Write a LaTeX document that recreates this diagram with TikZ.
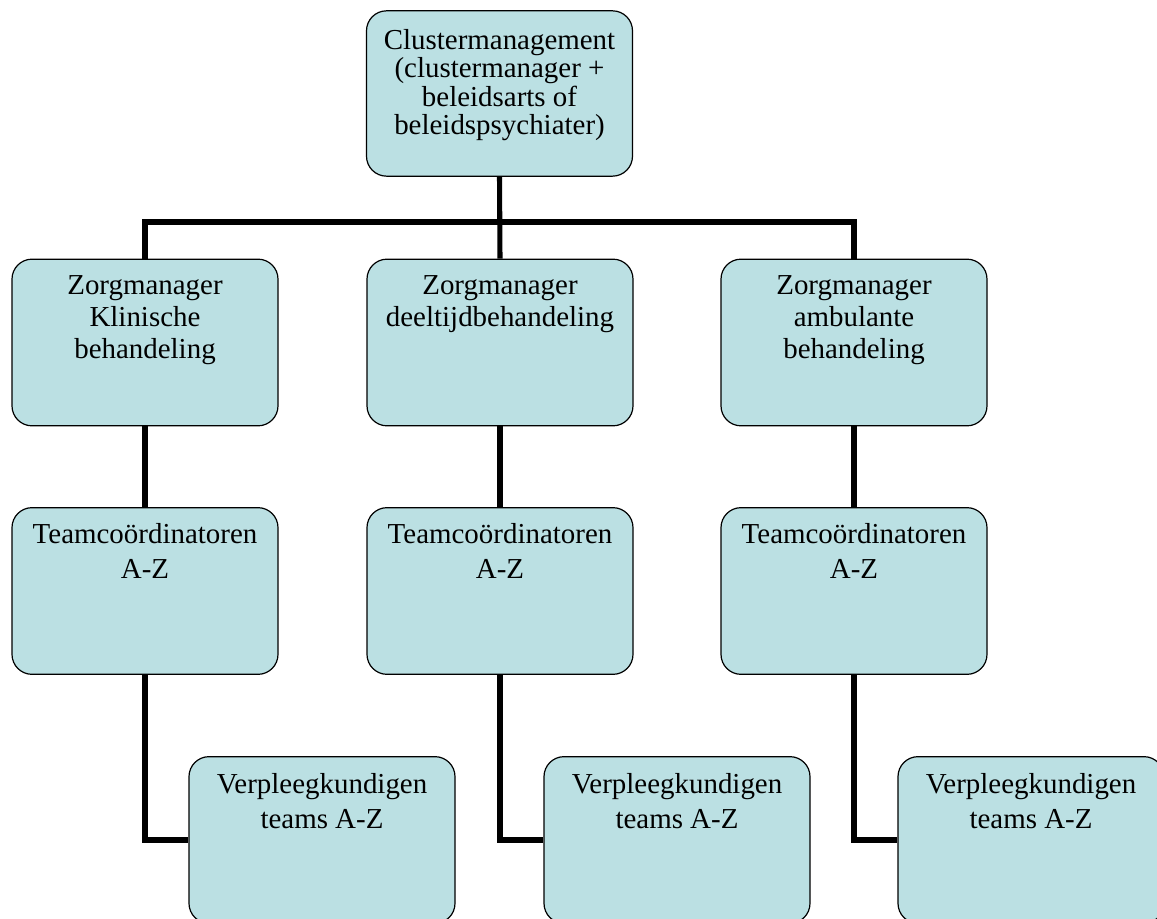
\documentclass[tikz,border=0pt]{standalone}
\usepackage{fontspec}
\setmainfont{Liberation Serif}
\begin{document}
\begin{tikzpicture}[x=0.75pt,y=-0.75pt,
  box/.style={draw=black,line width=0.9pt,fill=boxfill,rounded corners=15pt,
    minimum width=199.5pt,minimum height=125pt,inner sep=0pt},
  lbl/.style={align=center,inner sep=0pt,text=black},
  conn/.style={line width=3.8pt,line join=miter}]
\definecolor{boxfill}{RGB}{187,224,227}
\useasboundingbox (0,0) rectangle (1157,919);
\clip (0,0) rectangle (1157,919);
% boxes
\node[box,minimum height=124pt] (T) at (499.5,93.5) {};
\node[box] (L2) at (145,342.5) {};
\node[box] (M2) at (500,342.5) {};
\node[box] (R2) at (854,342.5) {};
\node[box] (L3) at (145,591) {};
\node[box] (M3) at (500,591) {};
\node[box] (R3) at (854,591) {};
\node[box] (L4) at (322,840) {};
\node[box] (M4) at (677,840) {};
\node[box] (R4) at (1031,840) {};
% connectors
\coordinate (bus) at (500,222);
\draw[conn] (T.south) -- (M2.north);
\draw[conn] (L2.north) |- (bus) -| (R2.north);
\draw[conn] (L2.south) -- (L3.north);
\draw[conn] (M2.south) -- (M3.north);
\draw[conn] (R2.south) -- (R3.north);
\draw[conn] (L3.south) |- (L4.west);
\draw[conn] (M3.south) |- (M4.west);
\draw[conn] (R3.south) |- (R4.west);
% texts
\node[lbl,anchor=north,font=\fontsize{21.7}{21.4}\selectfont] (tT) at (499.5,29)
  {Clustermanagement\\(clustermanager +\\beleidsarts of\\beleidspsychiater)};
\node[lbl,anchor=north,font=\fontsize{21.7}{24}\selectfont] (tL2) at (145,275)
  {Zorgmanager\\Klinische\\behandeling};
\node[lbl,anchor=north,font=\fontsize{21.7}{24}\selectfont] (tM2) at (500,275)
  {Zorgmanager\\deeltijdbehandeling};
\node[lbl,anchor=north,font=\fontsize{21.7}{24}\selectfont] (tR2) at (854,275)
  {Zorgmanager\\ambulante\\behandeling};
\node[lbl,anchor=north,font=\fontsize{21.7}{26.2}\selectfont] (tL3) at (145,523)
  {Teamcoördinatoren\\A-Z};
\node[lbl,anchor=north,font=\fontsize{21.7}{26.2}\selectfont] (tM3) at (500,523)
  {Teamcoördinatoren\\A-Z};
\node[lbl,anchor=north,font=\fontsize{21.7}{26.2}\selectfont] (tR3) at (854,523)
  {Teamcoördinatoren\\A-Z};
\node[lbl,anchor=north,font=\fontsize{21.7}{26.2}\selectfont] (tL4) at (322,773)
  {Verpleegkundigen\\teams A-Z};
\node[lbl,anchor=north,font=\fontsize{21.7}{26.2}\selectfont] (tM4) at (677,773)
  {Verpleegkundigen\\teams A-Z};
\node[lbl,anchor=north,font=\fontsize{21.7}{26.2}\selectfont] (tR4) at (1031,773)
  {Verpleegkundigen\\teams A-Z};
\end{tikzpicture}
\end{document}
